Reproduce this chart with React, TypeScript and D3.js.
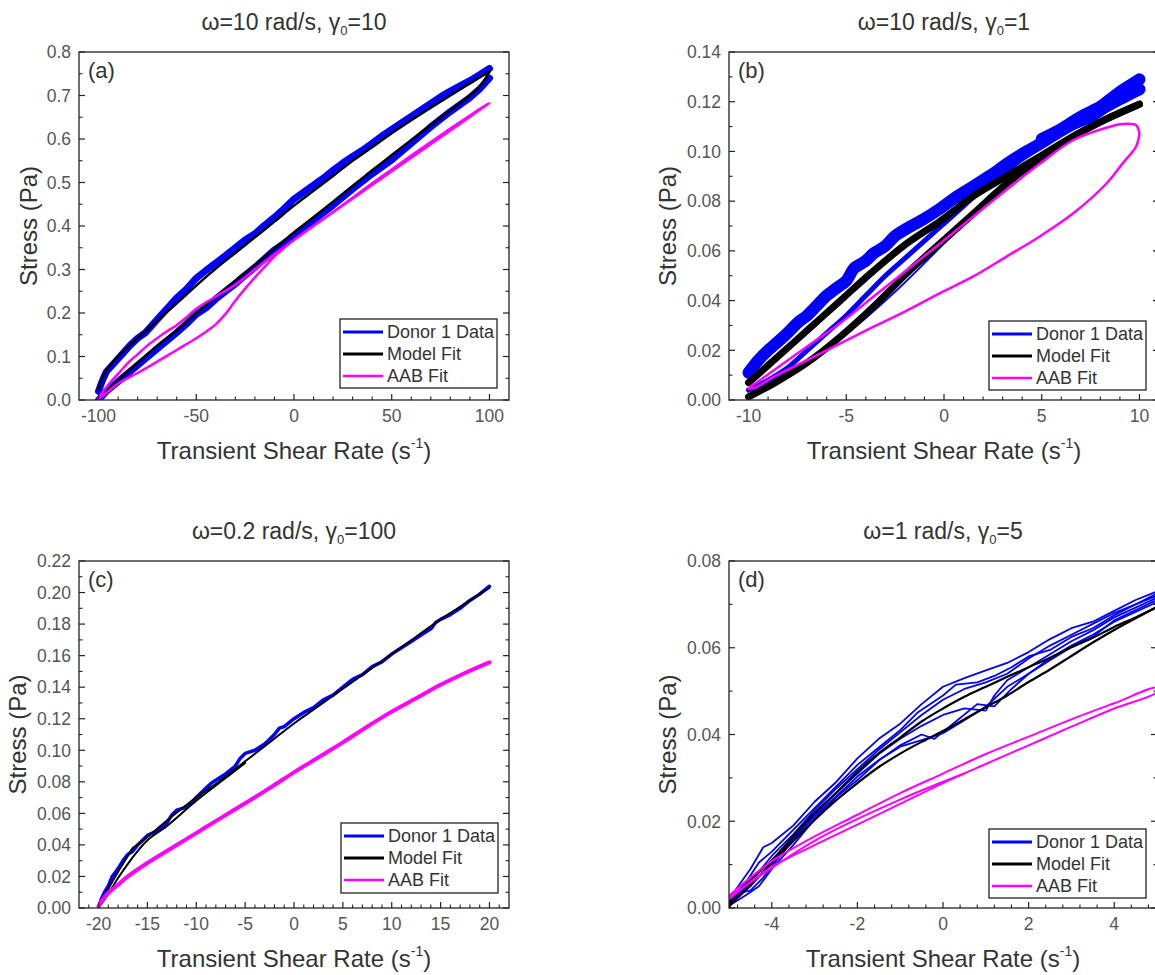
import * as d3 from 'd3';

type Pt = [number, number];

// ---------- (a) omega = 10 rad/s, gamma0 = 10
const aXTicks = [-100, -50, 0, 50, 100];
const aYTicks = [0, 0.1, 0.2, 0.3, 0.4, 0.5, 0.6, 0.7, 0.8];
const aDonorUp: Pt[] = [
  [-100, 0.02], [-98, 0.045], [-96, 0.065], [-92, 0.085], [-88, 0.105], [-84, 0.125], [-80, 0.142],
  [-76, 0.155], [-72, 0.175], [-68, 0.195], [-64, 0.215], [-60, 0.235], [-55, 0.255], [-50, 0.28],
  [-45, 0.298], [-40, 0.315], [-35, 0.332], [-30, 0.35], [-25, 0.368], [-20, 0.382], [-15, 0.402],
  [-10, 0.42], [-5, 0.44], [0, 0.462], [5, 0.478], [10, 0.494], [15, 0.51], [20, 0.528], [25, 0.545],
  [30, 0.56], [35, 0.574], [40, 0.59], [45, 0.607], [50, 0.622], [55, 0.637], [60, 0.652], [65, 0.667],
  [70, 0.682], [75, 0.697], [80, 0.71], [85, 0.722], [90, 0.734], [95, 0.748], [100, 0.762],
];
const aDonorLo: Pt[] = [
  [-100, 0.0], [-96, 0.02], [-92, 0.035], [-88, 0.05], [-84, 0.065], [-80, 0.08], [-76, 0.095],
  [-72, 0.11], [-68, 0.125], [-64, 0.14], [-60, 0.155], [-55, 0.175], [-50, 0.197], [-45, 0.212],
  [-40, 0.232], [-35, 0.25], [-30, 0.267], [-25, 0.287], [-20, 0.305], [-15, 0.325], [-10, 0.345],
  [-5, 0.36], [0, 0.378], [10, 0.413], [20, 0.448], [30, 0.485], [40, 0.52], [50, 0.552], [60, 0.59],
  [70, 0.628], [80, 0.663], [90, 0.695], [95, 0.715], [100, 0.74],
];
const aModelUp: Pt[] = [
  [-100, 0.025], [-97, 0.06], [-94, 0.08], [-90, 0.1], [-85, 0.122], [-80, 0.142], [-75, 0.162],
  [-70, 0.182], [-65, 0.202], [-60, 0.222], [-50, 0.263], [-40, 0.302], [-30, 0.338], [-20, 0.374],
  [-10, 0.41], [0, 0.447], [10, 0.481], [20, 0.515], [30, 0.55], [40, 0.581], [50, 0.613], [60, 0.643],
  [70, 0.672], [80, 0.7], [90, 0.728], [100, 0.755],
];
const aModelLo: Pt[] = [
  [-100, 0.005], [-95, 0.025], [-90, 0.045], [-80, 0.085], [-70, 0.125], [-60, 0.16], [-50, 0.2],
  [-40, 0.238], [-30, 0.275], [-20, 0.31], [-10, 0.348], [0, 0.385], [10, 0.42], [20, 0.456],
  [30, 0.492], [40, 0.528], [50, 0.563], [60, 0.598], [70, 0.632], [80, 0.666], [90, 0.7], [95, 0.72],
  [100, 0.755],
];
const aAabUp: Pt[] = [
  [-100, 0.005], [-95, 0.035], [-90, 0.06], [-85, 0.085], [-80, 0.105], [-75, 0.125], [-70, 0.142],
  [-65, 0.158], [-60, 0.172], [-55, 0.19], [-50, 0.21], [-40, 0.238], [-30, 0.265], [-20, 0.3],
  [-10, 0.335], [0, 0.368], [10, 0.4], [20, 0.432], [30, 0.465], [40, 0.498], [50, 0.53], [60, 0.562],
  [70, 0.593], [80, 0.624], [90, 0.654], [100, 0.683],
];
const aAabLo: Pt[] = [
  [-100, 0.002], [-95, 0.02], [-90, 0.038], [-80, 0.062], [-70, 0.088], [-60, 0.115], [-50, 0.142],
  [-45, 0.157], [-40, 0.174], [-35, 0.198], [-30, 0.228], [-25, 0.256], [-20, 0.282], [-15, 0.306],
  [-10, 0.33], [-5, 0.35], [0, 0.368],
];

// ---------- (b) omega = 10 rad/s, gamma0 = 1
const bXTicks = [-10, -5, 0, 5, 10];
const bYTicks = [0, 0.02, 0.04, 0.06, 0.08, 0.1, 0.12, 0.14];
const bDonorUp: Pt[] = [
  [-10, 0.011], [-9.5, 0.016], [-9, 0.02], [-8.7, 0.022], [-8, 0.027], [-7.5, 0.031], [-7, 0.034],
  [-6.5, 0.038], [-6, 0.042], [-5.5, 0.045], [-5, 0.048], [-4.6, 0.053], [-4.2, 0.055], [-4, 0.056],
  [-3.6, 0.059], [-3, 0.062], [-2.5, 0.066], [-1.9, 0.069], [-1, 0.073], [-0.2, 0.077], [0.5, 0.081],
  [1.5, 0.086], [2.5, 0.091], [3.2, 0.095], [4, 0.099], [4.9, 0.103], [5.5, 0.106], [6.6, 0.111],
  [7.5, 0.114], [8.3, 0.118], [9, 0.121], [9.5, 0.123], [10, 0.125],
];
const bDonorUp2: Pt[] = [
  [5, 0.105], [6, 0.109], [7, 0.114], [8, 0.118], [8.5, 0.121], [9.2, 0.125], [9.6, 0.127], [10, 0.129],
];
const bDonorLo: Pt[] = [
  [-10, 0.004], [-9, 0.008], [-8, 0.013], [-7, 0.02], [-6, 0.027], [-5, 0.034], [-4, 0.042],
  [-3, 0.05], [-2, 0.057], [-1, 0.064], [0, 0.071], [1, 0.078], [2, 0.085], [3, 0.091], [4, 0.097],
  [5, 0.102], [6, 0.107], [7, 0.112], [8, 0.116], [9, 0.12], [10, 0.124],
];
const bDonorPart: Pt[] = [
  [-5.7, 0.022], [-4, 0.033], [-2.3, 0.045], [-0.5, 0.059], [1.5, 0.075],
];
const bModelUp: Pt[] = [
  [-10, 0.007], [-8.7, 0.016], [-7, 0.028], [-5.3, 0.04], [-3.6, 0.052], [-1.9, 0.063], [-0.2, 0.072],
  [1.5, 0.082], [3.2, 0.09], [4.9, 0.098], [6.6, 0.106], [8.3, 0.113], [10, 0.119],
];
const bModelLo: Pt[] = [
  [-10, 0.0013], [-8.7, 0.0067], [-7, 0.015], [-5.3, 0.0255], [-3.6, 0.0376], [-1.9, 0.051],
  [-0.2, 0.063], [1.5, 0.075], [3.2, 0.087], [4.9, 0.097], [6.6, 0.106], [8.3, 0.113], [10, 0.119],
];
const bAabUp: Pt[] = [
  [-10, 0.0047], [-8.7, 0.012], [-7, 0.0215], [-5.3, 0.031], [-3.6, 0.0416], [-1.9, 0.0523],
  [-0.2, 0.063], [1.5, 0.0738], [3.2, 0.0846], [4.9, 0.095], [6.6, 0.1045], [8.3, 0.1095],
  [9.15, 0.111], [9.83, 0.1105], [10, 0.107],
];
const bAabLo: Pt[] = [
  [-10, 0.0047], [-9.75, 0.0047], [-8.7, 0.0094], [-7, 0.016], [-5.3, 0.0228], [-3.6, 0.0295],
  [-1.9, 0.036], [-0.2, 0.043], [1.5, 0.0497], [3.2, 0.0577], [4.9, 0.0658], [6.6, 0.075],
  [8.3, 0.087], [9.15, 0.0953], [9.83, 0.102], [10, 0.107],
];

// ---------- (c) omega = 0.2 rad/s, gamma0 = 100
const cXTicks = [-20, -15, -10, -5, 0, 5, 10, 15, 20];
const cYTicks = [0, 0.02, 0.04, 0.06, 0.08, 0.1, 0.12, 0.14, 0.16, 0.18, 0.2, 0.22];
const cDonor: Pt[] = [
  [-20, 0.0], [-19.7, 0.006], [-19.3, 0.011], [-19, 0.014], [-18.6, 0.02], [-18, 0.025],
  [-17.5, 0.03], [-17, 0.034], [-16.5, 0.036], [-16, 0.04], [-15.5, 0.043], [-15, 0.046],
  [-14, 0.049], [-13, 0.054], [-12.5, 0.059], [-12, 0.062], [-11, 0.064], [-10, 0.07], [-9, 0.076],
  [-8.5, 0.079], [-8, 0.081], [-7, 0.085], [-6, 0.09], [-5.5, 0.095], [-5, 0.098], [-4, 0.1],
  [-3, 0.104], [-2, 0.11], [-1.5, 0.114], [-1, 0.115], [0, 0.12], [1, 0.124], [2, 0.127], [3, 0.132],
  [4, 0.135], [5, 0.14], [6, 0.145], [7, 0.148], [8, 0.153], [9, 0.156], [10, 0.161], [11, 0.165],
  [12, 0.169], [13, 0.173], [14, 0.177], [14.5, 0.181], [15, 0.183], [16, 0.186], [17, 0.19],
  [18, 0.195], [19, 0.199], [20, 0.204],
];
const cModelUp: Pt[] = [
  [-20, 0.0], [-19, 0.012], [-18, 0.023], [-17, 0.033], [-16.5, 0.038], [-16, 0.04], [-15, 0.045],
  [-12.5, 0.058], [-10, 0.07], [-7.5, 0.081], [-5, 0.093], [-2.5, 0.105], [0, 0.117], [2.5, 0.128],
  [5, 0.139], [7.5, 0.15], [10, 0.161], [12.5, 0.172], [15, 0.183], [17.5, 0.193], [20, 0.203],
];
const cModelLo: Pt[] = [
  [-20, 0.0], [-19, 0.009], [-18, 0.019], [-17, 0.028], [-16, 0.036], [-15, 0.043], [-13, 0.052],
  [-10, 0.068], [-7.5, 0.08], [-5, 0.092],
];
const cAab: Pt[] = [
  [-20, 0.001], [-19.5, 0.006], [-19, 0.0095], [-18, 0.0148], [-17, 0.02], [-15, 0.0285],
  [-12.5, 0.038], [-10, 0.0475], [-7.5, 0.057], [-5, 0.0664], [-2.5, 0.076], [0, 0.086],
  [2.5, 0.0955], [5, 0.105], [7.5, 0.115], [10, 0.1245], [12.5, 0.133], [15, 0.1415],
  [17.5, 0.149], [20, 0.1557],
];

// ---------- (d) omega = 1 rad/s, gamma0 = 5
const dXTicks = [-4, -2, 0, 2, 4];
const dYTicks = [0, 0.02, 0.04, 0.06, 0.08];
const dDonorUp1: Pt[] = [
  [-5, 0.002], [-4.5, 0.009], [-4.2, 0.014], [-4, 0.015], [-3.5, 0.019], [-3, 0.0245], [-2.5, 0.029],
  [-2, 0.0345], [-1.5, 0.039], [-1, 0.0425], [-0.5, 0.047], [0, 0.051], [0.5, 0.053], [1, 0.0548],
  [1.5, 0.0565], [2, 0.059], [2.5, 0.062], [3, 0.0645], [3.5, 0.066], [4, 0.0685], [4.5, 0.071],
  [5, 0.073],
];
const dDonorLo1: Pt[] = [
  [-5, 0.0], [-4.8, 0.0035], [-4.5, 0.004], [-4.2, 0.007], [-4, 0.0096], [-3.5, 0.0157],
  [-3, 0.0211], [-2.5, 0.0257], [-2, 0.0303], [-1.5, 0.0341], [-1, 0.0372], [-0.5, 0.0387],
  [0, 0.0403], [0.5, 0.0433], [1, 0.0464], [1.5, 0.051], [2, 0.054], [2.5, 0.0571], [3, 0.0602],
  [3.5, 0.0625], [4, 0.0663], [5, 0.071],
];
const dDonorUp2: Pt[] = [
  [-5, 0.001], [-4.5, 0.006], [-4, 0.012], [-3.5, 0.017], [-3, 0.0225], [-2.5, 0.0275], [-2, 0.032],
  [-1.5, 0.0365], [-1, 0.0405], [-0.5, 0.0445], [0, 0.048], [0.5, 0.0505], [1, 0.052], [1.5, 0.054],
  [2, 0.0575], [2.5, 0.0605], [3, 0.063], [3.5, 0.0655], [4, 0.068], [5, 0.072],
];
const dDonorLo2: Pt[] = [
  [-5, 0.0005], [-4.5, 0.005], [-4, 0.0105], [-3.5, 0.016], [-3, 0.0215], [-2.5, 0.0265], [-2, 0.031],
  [-1.5, 0.0355], [-1, 0.039], [-0.5, 0.042], [0, 0.0445], [0.5, 0.046], [1, 0.0455], [1.2, 0.049],
  [1.5, 0.0525], [2, 0.0555], [2.5, 0.0585], [3, 0.0615], [3.5, 0.064], [4, 0.067], [5, 0.0715],
];
const dDonorUp3: Pt[] = [
  [-5, 0.0015], [-4.6, 0.006], [-4.3, 0.0105], [-4, 0.013], [-3.5, 0.018], [-3, 0.023], [-2.5, 0.028],
  [-2, 0.033], [-1.5, 0.037], [-1, 0.041], [-0.6, 0.045], [0, 0.049], [0.3, 0.0515], [0.8, 0.052],
  [1.2, 0.0535], [1.6, 0.0555], [2, 0.058], [2.5, 0.0595], [3, 0.0625], [3.5, 0.0645], [4, 0.0675],
  [5, 0.0725],
];
const dDonorLo3: Pt[] = [
  [-5, 0.0005], [-4.6, 0.003], [-4.3, 0.005], [-4, 0.009], [-3.5, 0.0145], [-3, 0.0205],
  [-2.5, 0.0255], [-2, 0.0295], [-1.5, 0.034], [-1, 0.0375], [-0.5, 0.04], [-0.2, 0.039],
  [0.3, 0.043], [0.8, 0.047], [1.2, 0.0465], [1.6, 0.0505], [2, 0.054], [2.5, 0.0575], [3, 0.0605],
  [3.5, 0.063], [4, 0.066], [5, 0.0705],
];
const dModelUp: Pt[] = [
  [-5, 0.0012], [-4.5, 0.0065], [-4, 0.011], [-3.5, 0.0165], [-3, 0.0219], [-2.5, 0.0265],
  [-2, 0.0314], [-1.5, 0.0357], [-1, 0.0393], [-0.5, 0.043], [0, 0.046], [0.5, 0.0487], [1, 0.051],
  [1.5, 0.0533], [2, 0.0555], [2.5, 0.0577], [3, 0.0601], [3.5, 0.0623], [4, 0.0648], [4.5, 0.067],
  [5, 0.0694],
];
const dModelLo: Pt[] = [
  [-5, 0.0004], [-4, 0.0104], [-3, 0.0203], [-2.5, 0.0248], [-2, 0.0288], [-1.5, 0.0325],
  [-1, 0.0356], [-0.5, 0.0383], [0, 0.0408], [0.5, 0.0435], [1, 0.0463], [1.5, 0.049], [2, 0.0521],
  [2.5, 0.055], [3, 0.0581], [3.5, 0.0612], [4, 0.0641], [5, 0.0694],
];
const dAabUp: Pt[] = [
  [-5, 0.0028], [-4.5, 0.007], [-4, 0.0108], [-3, 0.0165], [-2, 0.0215], [-1, 0.0265], [0, 0.031],
  [1, 0.0355], [2, 0.0395], [3, 0.0435], [4, 0.0472], [5, 0.0508],
];
const dAabLo: Pt[] = [
  [-5, 0.002], [-4.5, 0.006], [-4, 0.0095], [-3, 0.0145], [-2, 0.0192], [-1, 0.024], [0, 0.0288],
  [1, 0.0332], [2, 0.0375], [3, 0.0418], [4, 0.046], [5, 0.0498],
];
const dAabPart: Pt[] = [[-5, 0.0024], [-3, 0.0155], [-1, 0.025], [0.5, 0.031]];

const legendLabels = ['Donor 1 Data', 'Model Fit', 'AAB Fit'];
const BLUE = '#0000ff';
const BLACK = '#000000';
const MAGENTA = '#ff00ff';
const legendColors = [BLUE, BLACK, MAGENTA];

const FONT = '"Liberation Sans", Arial, Helvetica, sans-serif';

const loop = (up: Pt[], lo: Pt[]): Pt[] => up.concat(lo.slice().reverse());

const panels = [
  {
    key: 'a', frame: [79, 52, 509, 400], xDom: [-110, 110], yDom: [0, 0.8],
    xTicks: aXTicks, xMinor: [-100, 100, 10], yTicks: aYTicks, yMinor: [0, 0.8, 0.05], yFmt: '.1f',
    omega: '10', gamma: '10', legend: [-169, -81, 69], yTitleDx: -50,
    series: [
      { color: BLUE, width: 7, smooth: false, paths: [aDonorUp, aDonorLo] },
      { color: BLACK, width: 2.5, smooth: true, paths: [aModelUp, aModelLo] },
      { color: MAGENTA, width: 2.5, smooth: true, paths: [loop(aAabUp, aAabLo)] },
    ],
  },
  {
    key: 'b', frame: [729, 52, 1159, 400], xDom: [-11, 11], yDom: [0, 0.14],
    xTicks: bXTicks, xMinor: [-10, 10, 1], yTicks: bYTicks, yMinor: [0, 0.14, 0.01], yFmt: '.2f',
    omega: '10', gamma: '1', legend: [-170, -79, 69], yTitleDx: -61,
    series: [
      { color: BLUE, width: 12, smooth: true, paths: [bDonorUp, bDonorUp2] },
      { color: BLUE, width: 5, smooth: true, paths: [bDonorLo] },
      { color: BLUE, width: 2, smooth: true, paths: [bDonorPart] },
      { color: BLACK, width: 7, smooth: true, paths: [bModelUp, bModelLo] },
      { color: MAGENTA, width: 2.5, smooth: true, paths: [loop(bAabUp, bAabLo)] },
    ],
  },
  {
    key: 'c', frame: [79, 561, 509, 908], xDom: [-22, 22], yDom: [0, 0.22],
    xTicks: cXTicks, xMinor: [-21, 21, 1], yTicks: cYTicks, yMinor: [0, 0.22, 0.01], yFmt: '.2f',
    omega: '0.2', gamma: '100', legend: [-168, -85, 70], yTitleDx: -61,
    series: [
      { color: BLUE, width: 3.5, smooth: false, paths: [cDonor] },
      { color: BLACK, width: 2, smooth: true, paths: [cModelUp, cModelLo] },
      { color: MAGENTA, width: 4, smooth: true, paths: [cAab] },
    ],
  },
  {
    key: 'd', frame: [729, 561, 1157, 908], xDom: [-5, 5], yDom: [0, 0.08],
    xTicks: dXTicks, xMinor: [-4.8, 4.8, 0.4], yTicks: dYTicks, yMinor: [0, 0.08, 0.01], yFmt: '.2f',
    omega: '1', gamma: '5', legend: [-168, -79, 69], yTitleDx: -61,
    series: [
      {
        color: BLUE, width: 1.8, smooth: false,
        paths: [loop(dDonorUp1, dDonorLo1), loop(dDonorUp2, dDonorLo2), loop(dDonorUp3, dDonorLo3)],
      },
      { color: BLACK, width: 2.2, smooth: true, paths: [dModelUp, dModelLo] },
      { color: MAGENTA, width: 2, smooth: true, paths: [loop(dAabUp, dAabLo), dAabPart] },
    ],
  },
];

function Panel({ p }: { p: any }) {
  const [x0, y0, x1, y1] = p.frame;
  const x = d3.scaleLinear().domain(p.xDom).range([x0, x1]);
  const y = d3.scaleLinear().domain(p.yDom).range([y1, y0]);
  const smoothLine = d3.line<Pt>().x(d => x(d[0])).y(d => y(d[1])).curve(d3.curveCatmullRom.alpha(0.5));
  const rawLine = d3.line<Pt>().x(d => x(d[0])).y(d => y(d[1]));
  const fmtY = d3.format(p.yFmt);
  const isMajor = (v: number, ticks: number[]) => ticks.some(t => Math.abs(t - v) < 1e-9);
  const xMinor = d3.range(p.xMinor[0], p.xMinor[1] + 1e-9, p.xMinor[2]).filter(v => !isMajor(v, p.xTicks));
  const yMinor = d3.range(p.yMinor[0], p.yMinor[1] + 1e-9, p.yMinor[2]).filter(v => !isMajor(v, p.yTicks));
  const lx = x1 + p.legend[0];
  const ly = y1 + p.legend[1];
  const cx = (x0 + x1) / 2;
  const cy = (y0 + y1) / 2;
  const tickColor = '#222';

  return (
    <g>
      <defs>
        <clipPath id={`clip-${p.key}`}>
          <rect x={x0} y={y0} width={x1 - x0} height={y1 - y0} />
        </clipPath>
      </defs>

      {/* title */}
      <text x={cx} y={y0 - 22} textAnchor="middle" fontSize={23} fill="#333" fontFamily={FONT}>
        ω={p.omega} rad/s, γ
        <tspan fontSize={13} dy={5}>0</tspan>
        <tspan dy={-5}>={p.gamma}</tspan>
      </text>

      {/* curves */}
      <g clipPath={`url(#clip-${p.key})`} fill="none" strokeLinejoin="round" strokeLinecap="round">
        {p.series.map((s: any, i: number) =>
          s.paths.map((pts: Pt[], j: number) => (
            <path
              key={`${i}-${j}`}
              d={(s.smooth ? smoothLine : rawLine)(pts) || ''}
              stroke={s.color}
              strokeWidth={s.width}
            />
          )),
        )}
      </g>

      {/* frame */}
      <rect x={x0} y={y0} width={x1 - x0} height={y1 - y0} fill="none" stroke={tickColor} strokeWidth={1.3} />

      {/* x ticks (inward) */}
      {p.xTicks.map((v: number) => (
        <g key={`xt${v}`}>
          <line x1={x(v)} x2={x(v)} y1={y1} y2={y1 - 6} stroke={tickColor} strokeWidth={1.2} />
          <text x={x(v)} y={y1 + 22} textAnchor="middle" fontSize={17.5} fill="#555" fontFamily={FONT}>
            {String(v)}
          </text>
        </g>
      ))}
      {xMinor.map((v: number) => (
        <line key={`xm${v}`} x1={x(v)} x2={x(v)} y1={y1} y2={y1 - 3.5} stroke={tickColor} strokeWidth={1.1} />
      ))}

      {/* y ticks, left and right (inward) */}
      {p.yTicks.map((v: number) => (
        <g key={`yt${v}`}>
          <line x1={x0} x2={x0 + 6} y1={y(v)} y2={y(v)} stroke={tickColor} strokeWidth={1.2} />
          <line x1={x1} x2={x1 - 6} y1={y(v)} y2={y(v)} stroke={tickColor} strokeWidth={1.2} />
          <text x={x0 - 8} y={y(v)} dy="0.36em" textAnchor="end" fontSize={17.5} fill="#555" fontFamily={FONT}>
            {fmtY(v)}
          </text>
        </g>
      ))}
      {yMinor.map((v: number) => (
        <g key={`ym${v}`}>
          <line x1={x0} x2={x0 + 3.5} y1={y(v)} y2={y(v)} stroke={tickColor} strokeWidth={1.1} />
          <line x1={x1} x2={x1 - 3.5} y1={y(v)} y2={y(v)} stroke={tickColor} strokeWidth={1.1} />
        </g>
      ))}

      {/* panel letter */}
      <text x={x0 + 9} y={y0 + 26} fontSize={22} fill="#333" fontFamily={FONT}>
        ({p.key})
      </text>

      {/* axis titles */}
      <text
        transform={`translate(${x0 + p.yTitleDx},${cy}) rotate(-90)`}
        textAnchor="middle"
        dy="0.35em"
        fontSize={24}
        fill="#333"
        fontFamily={FONT}
      >
        Stress (Pa)
      </text>
      <text x={cx} y={y1 + 59} textAnchor="middle" fontSize={24} fill="#333" fontFamily={FONT}>
        Transient Shear Rate (s<tspan fontSize={14} dy={-11}>-1</tspan>
        <tspan dy={11}>)</tspan>
      </text>

      {/* legend */}
      <g>
        <rect x={lx} y={ly} width={157} height={p.legend[2]} fill="#fff" stroke="#222" strokeWidth={1.3} />
        {legendLabels.map((name, i) => (
          <g key={name}>
            <line
              x1={lx + 3}
              x2={lx + 43}
              y1={ly + 13 + i * 22}
              y2={ly + 13 + i * 22}
              stroke={legendColors[i]}
              strokeWidth={i === 2 ? 2.5 : 3}
            />
            <text x={lx + 47} y={ly + 13 + i * 22} dy="0.36em" fontSize={18} fill="#333" fontFamily={FONT}>
              {name}
            </text>
          </g>
        ))}
      </g>
    </g>
  );
}

export default function App() {
  return (
    <svg
      width={1155}
      height={975}
      viewBox="0 0 1155 975"
      style={{ position: 'absolute', left: 0, top: 0, background: '#fff' }}
    >
      <rect width={1155} height={975} fill="#fff" />
      {panels.map(p => (
        <Panel key={p.key} p={p} />
      ))}
    </svg>
  );
}
